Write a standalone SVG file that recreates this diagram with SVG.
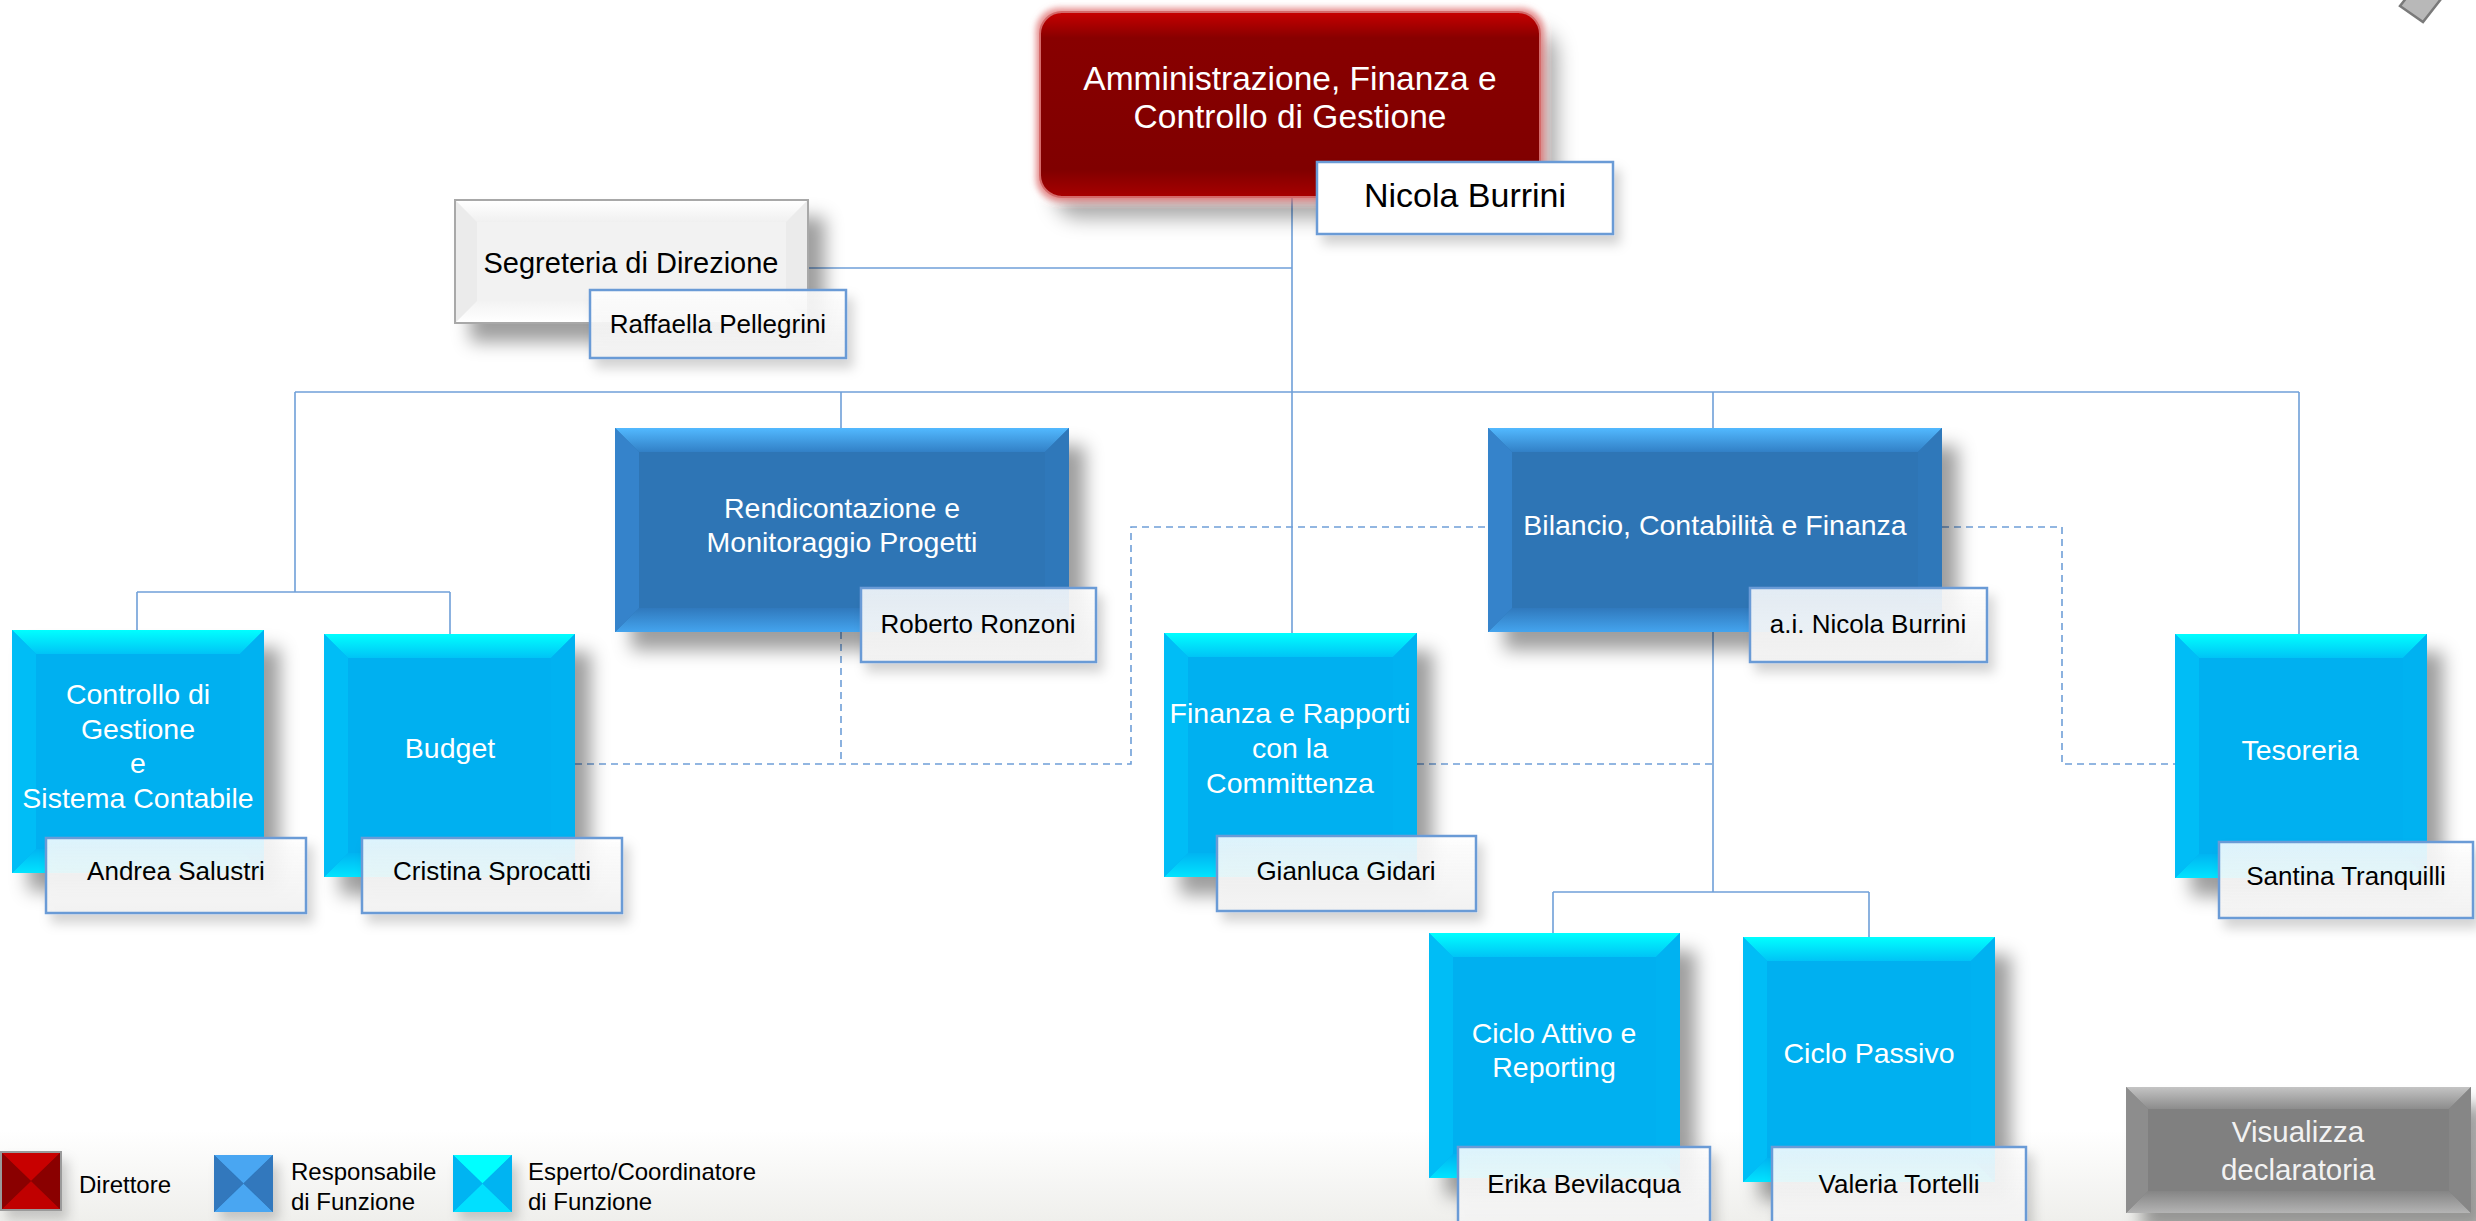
<svg xmlns="http://www.w3.org/2000/svg" width="2476" height="1221" viewBox="0 0 2476 1221">
<defs>
  <filter id="shadow" x="-20%" y="-20%" width="150%" height="160%">
    <feGaussianBlur in="SourceAlpha" stdDeviation="9"/>
    <feOffset dx="16" dy="18" result="o"/>
    <feFlood flood-color="#000" flood-opacity="0.38"/>
    <feComposite in2="o" operator="in"/>
    <feMerge><feMergeNode/><feMergeNode in="SourceGraphic"/></feMerge>
  </filter>
  <filter id="redshadow" x="-20%" y="-30%" width="150%" height="180%">
    <feGaussianBlur in="SourceAlpha" stdDeviation="10"/>
    <feOffset dx="16" dy="20" result="o"/>
    <feFlood flood-color="#000" flood-opacity="0.35"/>
    <feComposite in2="o" operator="in" result="s"/>
    <feMorphology in="SourceAlpha" operator="dilate" radius="3" result="d"/>
    <feGaussianBlur in="d" stdDeviation="3" result="db"/>
    <feFlood flood-color="#e07070" flood-opacity="0.8"/>
    <feComposite in2="db" operator="in" result="g"/>
    <feMerge><feMergeNode in="s"/><feMergeNode in="g"/><feMergeNode in="SourceGraphic"/></feMerge>
  </filter>
  <filter id="pshadow" x="-20%" y="-30%" width="150%" height="180%">
    <feGaussianBlur in="SourceAlpha" stdDeviation="6"/>
    <feOffset dx="6" dy="9" result="o"/>
    <feFlood flood-color="#000" flood-opacity="0.18"/>
    <feComposite in2="o" operator="in"/>
    <feMerge><feMergeNode/><feMergeNode in="SourceGraphic"/></feMerge>
  </filter>
  <linearGradient id="gCyTop" x1="0" y1="0" x2="0" y2="1"><stop offset="0" stop-color="#00ffff"/><stop offset="1" stop-color="#00c4f6"/></linearGradient>
  <linearGradient id="gCyBot" x1="0" y1="0" x2="0" y2="1"><stop offset="0" stop-color="#00b4f2"/><stop offset="1" stop-color="#00e4ff"/></linearGradient>
  <linearGradient id="gBlTop" x1="0" y1="0" x2="0" y2="1"><stop offset="0" stop-color="#52b9ff"/><stop offset="1" stop-color="#3280c6"/></linearGradient>
  <linearGradient id="gBlBot" x1="0" y1="0" x2="0" y2="1"><stop offset="0" stop-color="#3079bd"/><stop offset="1" stop-color="#44a4ee"/></linearGradient>
  <linearGradient id="gGrTop" x1="0" y1="0" x2="0" y2="1"><stop offset="0" stop-color="#c4c4c4"/><stop offset="1" stop-color="#8c8c8c"/></linearGradient>
  <linearGradient id="gGrBot" x1="0" y1="0" x2="0" y2="1"><stop offset="0" stop-color="#858585"/><stop offset="1" stop-color="#b4b4b4"/></linearGradient>
  <linearGradient id="gWhTop" x1="0" y1="0" x2="0" y2="1"><stop offset="0" stop-color="#ffffff"/><stop offset="1" stop-color="#f0f0f0"/></linearGradient>
  <linearGradient id="gWhBot" x1="0" y1="0" x2="0" y2="1"><stop offset="0" stop-color="#f3f3f3"/><stop offset="1" stop-color="#ffffff"/></linearGradient>
  <linearGradient id="gRed" x1="0" y1="0" x2="0" y2="1">
    <stop offset="0" stop-color="#c80000"/><stop offset="0.14" stop-color="#880000"/><stop offset="0.85" stop-color="#800000"/><stop offset="1" stop-color="#a80000"/>
  </linearGradient>
  <linearGradient id="gPerson" x1="0" y1="0" x2="0" y2="1">
    <stop offset="0" stop-color="#ffffff" stop-opacity="0.86"/><stop offset="1" stop-color="#f2f2f2" stop-opacity="0.96"/>
  </linearGradient>
  <linearGradient id="gBottom" x1="0" y1="0" x2="0" y2="1">
    <stop offset="0" stop-color="#ffffff"/><stop offset="1" stop-color="#efefec"/>
  </linearGradient>
</defs>
<style>
  text { font-family: "Liberation Sans", Arial, sans-serif; }
  .conn { stroke: #6f9fd8; stroke-width: 1.6; fill: none; }
  .dash { stroke: #6f9fd8; stroke-width: 1.6; fill: none; stroke-dasharray: 7 5; }
  .cy { fill: #00b0f0; }
  .cy-t { fill: url(#gCyTop); }
  .cy-b { fill: url(#gCyBot); }
  .cy-l { fill: #00bdf6; }
  .cy-r { fill: #00b2f1; }
  .bl { fill: #2e74b5; }
  .bl-t { fill: url(#gBlTop); }
  .bl-b { fill: url(#gBlBot); }
  .bl-l { fill: #3583cb; }
  .bl-r { fill: #2f78ba; }
  .gr { fill: #808080; }
  .gr-t { fill: url(#gGrTop); }
  .gr-b { fill: url(#gGrBot); }
  .gr-l { fill: #8d8d8d; }
  .gr-r { fill: #868686; }
  .wh { fill: #f2f2f2; stroke: #a8a8a8; stroke-width: 2; }
  .wh-t { fill: url(#gWhTop); }
  .wh-b { fill: url(#gWhBot); }
  .wh-s { fill: #ebebeb; }
  .lbl { fill: #ffffff; font-size: 28.5px; text-anchor: middle; }
  .person { fill: url(#gPerson); stroke: #6b9bd6; stroke-width: 2.5; }
  .pname { fill: #000000; font-size: 26px; text-anchor: middle; }
  .legend { fill: #000000; font-size: 24px; }
</style>
<rect x="0" y="0" width="2476" height="1221" fill="#ffffff"/>
<rect x="0" y="1130" width="2476" height="91" fill="url(#gBottom)"/>
<polygon points="2400,6 2423,22 2441,-1 2418,-17" fill="#b8b8b8" stroke="#7a7a7a" stroke-width="2.5"/>

<g id="connectors">
  <line class="conn" x1="1292" y1="197" x2="1292" y2="633"/>
  <line class="conn" x1="808" y1="268" x2="1292" y2="268"/>
  <line class="conn" x1="295" y1="392" x2="2299" y2="392"/>
  <line class="conn" x1="295" y1="392" x2="295" y2="592"/>
  <line class="conn" x1="137" y1="592" x2="450" y2="592"/>
  <line class="conn" x1="137" y1="592" x2="137" y2="630"/>
  <line class="conn" x1="450" y1="592" x2="450" y2="634"/>
  <line class="conn" x1="841" y1="392" x2="841" y2="428"/>
  <line class="conn" x1="1713" y1="392" x2="1713" y2="428"/>
  <line class="conn" x1="2299" y1="392" x2="2299" y2="634"/>
  <line class="conn" x1="1713" y1="632" x2="1713" y2="892"/>
  <line class="conn" x1="1553" y1="892" x2="1869" y2="892"/>
  <line class="conn" x1="1553" y1="892" x2="1553" y2="933"/>
  <line class="conn" x1="1869" y1="892" x2="1869" y2="937"/>
  <line class="dash" x1="841" y1="632" x2="841" y2="764"/>
  <polyline class="dash" points="575,764 1131,764 1131,527 1488,527"/>
  <polyline class="dash" points="1942,527 2062,527 2062,764 2175,764"/>
  <line class="dash" x1="1417" y1="764" x2="1713" y2="764"/>
</g>

<g id="node-direzione">
  <rect x="1040" y="12" width="500" height="185" rx="22" fill="url(#gRed)" stroke="#d46a6a" stroke-width="2" filter="url(#redshadow)"/>
  <text x="1290" y="90" class="lbl" style="font-size:33.5px">Amministrazione, Finanza e</text>
  <text x="1290" y="128" class="lbl" style="font-size:33.5px">Controllo di Gestione</text>
  <rect x="1317" y="162" width="296" height="72" class="person" style="fill:#ffffff" filter="url(#pshadow)"/>
  <text x="1465" y="207" class="pname" style="font-size:34px">Nicola Burrini</text>
</g>

<g id="node-segreteria">
  <rect x="455" y="200" width="353" height="123" class="wh" filter="url(#shadow)"/>
  <polygon class="wh-t" points="456,201 807,201 786,222 477,222"/>
  <polygon class="wh-b" points="456,322 807,322 786,301 477,301"/>
  <polygon class="wh-s" points="456,201 477,222 477,301 456,322"/>
  <polygon class="wh-s" points="807,201 786,222 786,301 807,322"/>
  <text x="631" y="273" style="font-size:29px;fill:#000;text-anchor:middle">Segreteria di Direzione</text>
  <rect x="590" y="290" width="256" height="68" class="person" filter="url(#pshadow)"/>
  <text x="718" y="333" class="pname">Raffaella Pellegrini</text>
</g>

<g id="node-rendicontazione">
  <rect x="615" y="428" width="454" height="204" class="bl" filter="url(#shadow)"/>
  <polygon class="bl-t" points="615,428 1069,428 1045,452 639,452"/>
  <polygon class="bl-b" points="615,632 1069,632 1045,608 639,608"/>
  <polygon class="bl-l" points="615,428 639,452 639,608 615,632"/>
  <polygon class="bl-r" points="1069,428 1045,452 1045,608 1069,632"/>
  <text x="842" y="518" class="lbl">Rendicontazione e</text>
  <text x="842" y="552" class="lbl">Monitoraggio Progetti</text>
  <rect x="861" y="588" width="235" height="74" class="person" filter="url(#pshadow)"/>
  <text x="978" y="633" class="pname">Roberto Ronzoni</text>
</g>

<g id="node-bilancio">
  <rect x="1488" y="428" width="454" height="204" class="bl" filter="url(#shadow)"/>
  <polygon class="bl-t" points="1488,428 1942,428 1918,452 1512,452"/>
  <polygon class="bl-b" points="1488,632 1942,632 1918,608 1512,608"/>
  <polygon class="bl-l" points="1488,428 1512,452 1512,608 1488,632"/>
  <polygon class="bl-r" points="1942,428 1918,452 1918,608 1942,632"/>
  <text x="1715" y="535" class="lbl">Bilancio, Contabilità e Finanza</text>
  <rect x="1750" y="588" width="237" height="74" class="person" filter="url(#pshadow)"/>
  <text x="1868" y="633" class="pname">a.i. Nicola Burrini</text>
</g>

<g id="node-controllo">
  <rect x="12" y="630" width="252" height="243" class="cy" filter="url(#shadow)"/>
  <polygon class="cy-t" points="12,630 264,630 240,654 36,654"/>
  <polygon class="cy-b" points="12,873 264,873 240,849 36,849"/>
  <polygon class="cy-l" points="12,630 36,654 36,849 12,873"/>
  <polygon class="cy-r" points="264,630 240,654 240,849 264,873"/>
  <text x="138" y="704" class="lbl">Controllo di</text>
  <text x="138" y="738.5" class="lbl">Gestione</text>
  <text x="138" y="773" class="lbl">e</text>
  <text x="138" y="807.5" class="lbl">Sistema Contabile</text>
  <rect x="46" y="838" width="260" height="75" class="person" filter="url(#pshadow)"/>
  <text x="176" y="880" class="pname">Andrea Salustri</text>
</g>

<g id="node-budget">
  <rect x="324" y="634" width="251" height="243" class="cy" filter="url(#shadow)"/>
  <polygon class="cy-t" points="324,634 575,634 551,658 348,658"/>
  <polygon class="cy-b" points="324,877 575,877 551,853 348,853"/>
  <polygon class="cy-l" points="324,634 348,658 348,853 324,877"/>
  <polygon class="cy-r" points="575,634 551,658 551,853 575,877"/>
  <text x="450" y="758" class="lbl">Budget</text>
  <rect x="362" y="838" width="260" height="75" class="person" filter="url(#pshadow)"/>
  <text x="492" y="880" class="pname">Cristina Sprocatti</text>
</g>

<g id="node-finanza">
  <rect x="1164" y="633" width="253" height="244" class="cy" filter="url(#shadow)"/>
  <polygon class="cy-t" points="1164,633 1417,633 1393,657 1188,657"/>
  <polygon class="cy-b" points="1164,877 1417,877 1393,853 1188,853"/>
  <polygon class="cy-l" points="1164,633 1188,657 1188,853 1164,877"/>
  <polygon class="cy-r" points="1417,633 1393,657 1393,853 1417,877"/>
  <text x="1290" y="723" class="lbl">Finanza e Rapporti</text>
  <text x="1290" y="758" class="lbl">con la</text>
  <text x="1290" y="793" class="lbl">Committenza</text>
  <rect x="1217" y="836" width="259" height="75" class="person" filter="url(#pshadow)"/>
  <text x="1346" y="880" class="pname">Gianluca Gidari</text>
</g>

<g id="node-tesoreria">
  <rect x="2175" y="634" width="252" height="244" class="cy" filter="url(#shadow)"/>
  <polygon class="cy-t" points="2175,634 2427,634 2403,658 2199,658"/>
  <polygon class="cy-b" points="2175,878 2427,878 2403,854 2199,854"/>
  <polygon class="cy-l" points="2175,634 2199,658 2199,854 2175,878"/>
  <polygon class="cy-r" points="2427,634 2403,658 2403,854 2427,878"/>
  <text x="2300" y="760" class="lbl">Tesoreria</text>
  <rect x="2219" y="842" width="254" height="76" class="person" filter="url(#pshadow)"/>
  <text x="2346" y="885" class="pname">Santina Tranquilli</text>
</g>

<g id="node-ciclo-attivo">
  <rect x="1429" y="933" width="251" height="245" class="cy" filter="url(#shadow)"/>
  <polygon class="cy-t" points="1429,933 1680,933 1656,957 1453,957"/>
  <polygon class="cy-b" points="1429,1178 1680,1178 1656,1154 1453,1154"/>
  <polygon class="cy-l" points="1429,933 1453,957 1453,1154 1429,1178"/>
  <polygon class="cy-r" points="1680,933 1656,957 1656,1154 1680,1178"/>
  <text x="1554" y="1043" class="lbl">Ciclo Attivo e</text>
  <text x="1554" y="1077" class="lbl">Reporting</text>
  <rect x="1458" y="1147" width="252" height="80" class="person" filter="url(#pshadow)"/>
  <text x="1584" y="1193" class="pname">Erika Bevilacqua</text>
</g>

<g id="node-ciclo-passivo">
  <rect x="1743" y="937" width="252" height="245" class="cy" filter="url(#shadow)"/>
  <polygon class="cy-t" points="1743,937 1995,937 1971,961 1767,961"/>
  <polygon class="cy-b" points="1743,1182 1995,1182 1971,1158 1767,1158"/>
  <polygon class="cy-l" points="1743,937 1767,961 1767,1158 1743,1182"/>
  <polygon class="cy-r" points="1995,937 1971,961 1971,1158 1995,1182"/>
  <text x="1869" y="1063" class="lbl">Ciclo Passivo</text>
  <rect x="1772" y="1147" width="254" height="80" class="person" filter="url(#pshadow)"/>
  <text x="1899" y="1193" class="pname">Valeria Tortelli</text>
</g>

<g id="node-visualizza">
  <rect x="2126" y="1087" width="345" height="126" class="gr" filter="url(#shadow)"/>
  <polygon class="gr-t" points="2126,1087 2471,1087 2449,1109 2148,1109"/>
  <polygon class="gr-b" points="2126,1213 2471,1213 2449,1191 2148,1191"/>
  <polygon class="gr-l" points="2126,1087 2148,1109 2148,1191 2126,1213"/>
  <polygon class="gr-r" points="2471,1087 2449,1109 2449,1191 2471,1213"/>
  <text x="2298" y="1142" class="lbl" style="font-size:29.5px;fill:#f2f2f2">Visualizza</text>
  <text x="2298" y="1180" class="lbl" style="font-size:29.5px;fill:#f2f2f2">declaratoria</text>
</g>

<g id="legend">
  <g filter="url(#pshadow)">
    <rect x="1" y="1152" width="60" height="58" fill="#a00000" stroke="#9a9a9a" stroke-width="2"/>
    <polygon points="2,1153 60,1153 31,1181" fill="#c80000"/>
    <polygon points="2,1209 60,1209 31,1181" fill="#c00000"/>
    <polygon points="2,1153 31,1181 2,1209" fill="#8a0000"/>
    <polygon points="60,1153 31,1181 60,1209" fill="#8a0000"/>
  </g>
  <text x="79" y="1193" class="legend">Direttore</text>
  <g filter="url(#pshadow)">
    <rect x="214" y="1155" width="59" height="57" fill="#2e74b5"/>
    <polygon points="214,1155 273,1155 243.5,1183.5" fill="#4aa6f2"/>
    <polygon points="214,1212 273,1212 243.5,1183.5" fill="#4aa6f2"/>
    <polygon points="214,1155 243.5,1183.5 214,1212" fill="#3078bd"/>
    <polygon points="273,1155 243.5,1183.5 273,1212" fill="#3078bd"/>
  </g>
  <text x="291" y="1180" class="legend">Responsabile</text>
  <text x="291" y="1210" class="legend">di Funzione</text>
  <g filter="url(#pshadow)">
    <rect x="453" y="1155" width="59" height="57" fill="#00b0f0"/>
    <polygon points="453,1155 512,1155 482.5,1183.5" fill="#00ffff"/>
    <polygon points="453,1212 512,1212 482.5,1183.5" fill="#00e0ff"/>
    <polygon points="453,1155 482.5,1183.5 453,1212" fill="#00b4f2"/>
    <polygon points="512,1155 482.5,1183.5 512,1212" fill="#00b4f2"/>
  </g>
  <text x="528" y="1180" class="legend">Esperto/Coordinatore</text>
  <text x="528" y="1210" class="legend">di Funzione</text>
</g>
</svg>
